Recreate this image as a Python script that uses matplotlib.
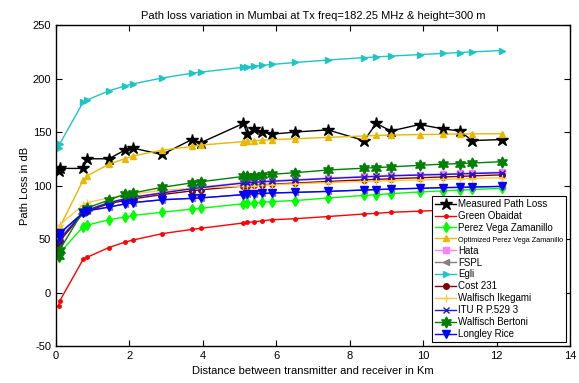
import matplotlib
matplotlib.use('Agg')
import matplotlib.pyplot as plt

plt.rcParams['font.family'] = ['Liberation Sans', 'DejaVu Sans']
plt.rcParams['axes.unicode_minus'] = False

# --- Данные ---
distance_km = [0.07, 0.1, 0.74, 0.85, 1.44, 1.87, 2.09, 2.89, 3.70, 3.94, 5.10, 5.21, 5.39,
               5.61, 5.88, 6.52, 7.40, 8.39, 8.72, 9.12, 9.90, 10.53, 10.99, 11.33, 12.15]

measured = [114, 116, 116, 125, 125, 133, 135, 129, 143, 140, 158, 148, 153,
            150, 148, 150, 152, 142, 158, 151, 157, 153, 151, 142, 143]
green_obaidat = [-12.5, -8, 31, 33, 42, 47, 49, 55, 59, 60, 65, 65.5, 66,
                 67, 68, 69, 71, 73.4, 74, 75, 76, 77, 77.5, 78, 79]
perez_vega = [33, 37, 61.5, 63, 68, 70.5, 72, 75, 78, 78.7, 83, 83.3, 83.8,
              84.3, 85, 86, 88.3, 90.8, 91.4, 92.4, 94, 95, 95.8, 96.3, 97.4]
opt_perez_vega = [58, 61, 105, 109, 120, 125, 127.6, 133, 136.5, 137.8, 141, 141.3, 141.8,
                  142.3, 142.8, 143.8, 145, 146.3, 146.8, 147.2, 147.6, 147.9, 148.2, 148.3, 148.4]
hata = [46, 49, 75, 77, 84, 87.5, 89, 93.5, 97.5, 98.5, 102.8, 103.1, 103.5,
        104, 104.5, 105.5, 107, 108.5, 109, 109.5, 110.3, 110.8, 111.3, 111.7, 112.5]
fspl = [53, 55.3, 74.6, 76.4, 79.8, 82.8, 84, 86.7, 88, 88.4, 91.5, 91.8, 92.2,
        92.6, 93, 93.6, 94.5, 95.8, 96.2, 96.7, 97.4, 98, 98.3, 98.6, 99.2]
egli = [134.7, 138.8, 178, 180, 188.5, 193, 195, 200.5, 205, 206, 210.5, 211, 211.7,
        212.3, 213.2, 215, 217.3, 219.5, 220.2, 221, 222.4, 223.5, 224.3, 224.9, 226.2]
cost231 = [45, 48, 74, 76, 83, 86, 87.5, 91.5, 95, 96, 99.5, 99.8, 100.2,
           100.7, 101.3, 102.3, 103.8, 105.3, 105.8, 106.3, 107.3, 108, 108.5, 109, 110]
walfisch_ikegami = [60, 63, 82, 84, 88.5, 91, 92, 95.5, 97.3, 97.8, 99.5, 99.7, 100,
                    100.4, 100.8, 101.6, 102.7, 103.8, 104.1, 104.5, 105.2, 105.8, 106.2, 106.5, 107.4]
itu_r = [47, 50, 75, 77, 84, 87.5, 89, 93, 97, 98, 102.3, 102.6, 103,
         103.5, 104, 105, 106.5, 108, 108.5, 109, 109.8, 110.3, 110.8, 111.2, 112]
walfisch_bertoni = [34, 40, 76, 79, 86.4, 92, 93, 98.3, 102.5, 103.5, 108.5, 108.8, 109.3,
                    109.8, 110.5, 112, 114.5, 116.2, 116.8, 117.4, 118.9, 120, 120.5, 121, 122.3]
longley_rice = [53, 55.3, 74.6, 76.4, 79.8, 82.8, 84, 86.7, 88, 88.4, 91.5, 91.8, 92.2,
                92.6, 93, 93.6, 94.5, 95.8, 96.2, 96.7, 97.4, 98, 98.3, 98.6, 99.2]

# --- Стиль серий ---
series = [
    ('Measured Path Loss', measured, 'k', '*', 9),
    ('Green Obaidat', green_obaidat, '#ff0000', '.', 5),
    ('Perez Vega Zamanillo', perez_vega, '#00ff00', 'd', 5),
    ('Optimized Perez Vega Zamanillo', opt_perez_vega, '#e6b800', '^', 5),
    ('Hata', hata, '#ff80ff', 's', 4),
    ('FSPL', fspl, '#808080', '<', 5),
    ('Egli', egli, '#1fc4c4', '>', 5),
    ('Cost 231', cost231, '#800000', 'o', 4),
    ('Walfisch Ikegami', walfisch_ikegami, '#ffc845', '+', 6),
    ('ITU R P.529 3', itu_r, '#1a1ad0', 'x', 5),
    ('Walfisch Bertoni', walfisch_bertoni, '#008000', (6, 1, 0), 8),
    ('Longley Rice', longley_rice, '#0000ff', 'v', 6),
]

fig = plt.figure(figsize=(5.79, 3.83), dpi=100)
ax = fig.add_axes([0.0967, 0.0966, 0.888, 0.838])

for label, values, color, marker, size in series:
    ax.plot(distance_km, values, color=color, marker=marker, markersize=size,
            linewidth=1.0, label=label)

ax.set_xlim(0, 14)
ax.set_ylim(-50, 250)
ax.set_xticks(range(0, 15, 2))
ax.set_yticks(range(-50, 251, 50))
ax.tick_params(direction='in', top=True, right=True, labelsize=8, length=4)
for sp in ax.spines.values():
    sp.set_linewidth(1.0)

ax.set_title('Path loss variation in Mumbai at Tx freq=182.25 MHz & height=300 m', fontsize=8, pad=4)
ax.set_xlabel('Distance between transmitter and receiver in Km', fontsize=8, labelpad=4)
ax.set_ylabel('Path Loss in dB', fontsize=8, labelpad=2)

leg = ax.legend(loc='lower right', fontsize=7, frameon=True, fancybox=False,
                edgecolor='k', framealpha=1, borderaxespad=0.4, borderpad=0.3,
                labelspacing=0.2, handlelength=2.2, handletextpad=0.2)
leg.get_frame().set_linewidth(0.8)
for txt in leg.get_texts():
    if txt.get_text().startswith('Optimized'):
        txt.set_fontsize(5.2)

fig.savefig('out.png', dpi=100)
